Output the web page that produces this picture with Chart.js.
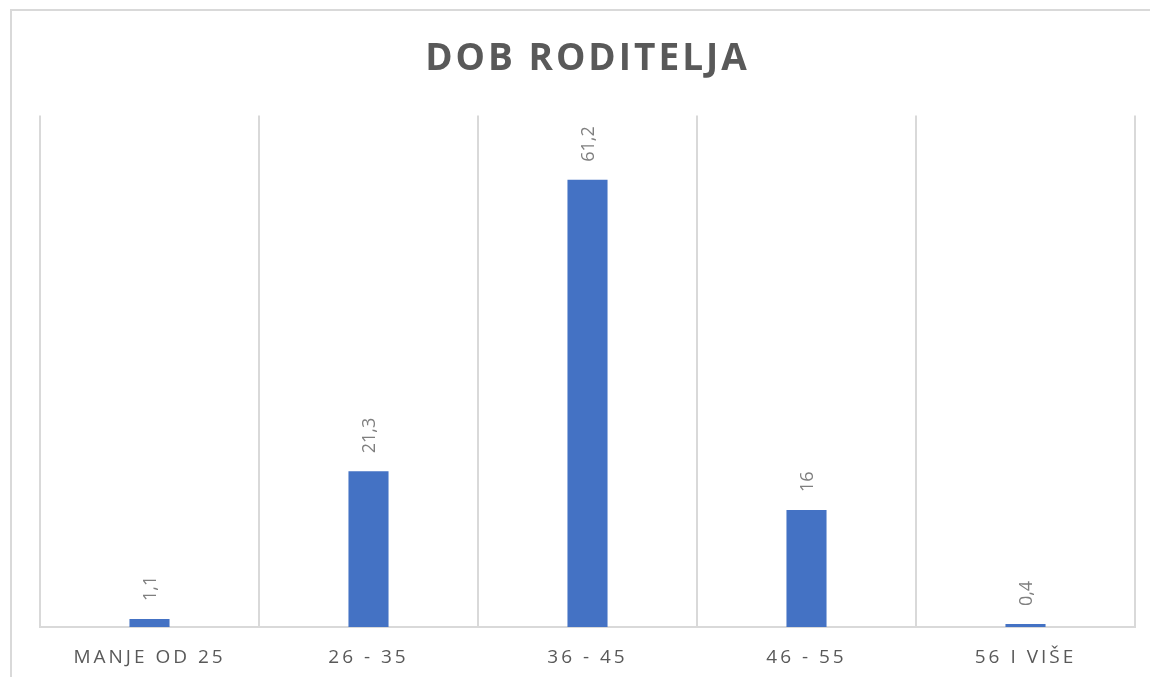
<!DOCTYPE html>
<html lang="hr">
<head>
<meta charset="UTF-8">
<title>Dob roditelja</title>
<script src="https://cdn.jsdelivr.net/npm/chart.js@4.4.0/dist/chart.umd.min.js"></script>
<style>
  html, body { margin: 0; padding: 0; background: #fff; overflow: hidden; }
  #frame { position: absolute; left: 10px; top: 9px; width: 1200px; height: 720px;
           border: 2px solid #d9d9d9; box-sizing: border-box; }
  #wrap { position: absolute; left: 0; top: 0; width: 1150px; height: 677px; }
</style>
</head>
<body>
<div id="frame"></div>
<div id="wrap"><canvas id="chart"></canvas></div>
<script>
// chart data
const categories = ['MANJE OD 25', '26 - 35', '36 - 45', '46 - 55', '56 I VIŠE'];
const values = [1.1, 21.3, 61.2, 16, 0.4];
const yMax = 70;

const fmt = v => String(v).replace('.', ',');

// letter-spaced text for title and axis labels (Excel style)
const spacing = {
  id: 'spacing',
  beforeDraw(chart) { chart.ctx.letterSpacing = '3px'; }
};

// rotated value labels above bars
const barLabels = {
  id: 'barLabels',
  afterDatasetsDraw(chart) {
    const ctx = chart.ctx;
    const meta = chart.getDatasetMeta(0);
    ctx.save();
    ctx.letterSpacing = '0px';
    ctx.font = '18px "Open Sans"';
    ctx.fillStyle = '#7f7f7f';
    ctx.textAlign = 'left';
    ctx.textBaseline = 'middle';
    meta.data.forEach((bar, i) => {
      ctx.save();
      ctx.translate(bar.x + 1, bar.y - 18);
      ctx.rotate(-Math.PI / 2);
      ctx.fillText(fmt(values[i]), 0, 0);
      ctx.restore();
    });
    ctx.restore();
  }
};

new Chart(document.getElementById('chart'), {
  type: 'bar',
  data: {
    labels: categories,
    datasets: [{
      data: values,
      backgroundColor: '#4472c4',
      barPercentage: 0.183,
      categoryPercentage: 1
    }]
  },
  options: {
    responsive: true,
    maintainAspectRatio: false,
    animation: false,
    layout: { padding: { left: 40, right: 15, top: 0, bottom: 0 } },
    plugins: {
      legend: { display: false },
      tooltip: { enabled: false },
      title: {
        display: true,
        text: 'DOB RODITELJA',
        color: '#595959',
        font: { family: '"Open Sans"', size: 37, weight: 'bold' },
        padding: { top: 37, bottom: 34 }
      }
    },
    scales: {
      x: {
        offset: true,
        grid: { display: true, offset: true, color: '#d9d9d9', lineWidth: 2, drawTicks: false },
        border: { display: true, color: '#d9d9d9', width: 2 },
        ticks: {
          color: '#595959',
          padding: 19,
          maxRotation: 0,
          font: { family: '"Open Sans"', size: 19 }
        },
        afterFit(scale) { scale.height = 50; }
      },
      y: {
        display: false,
        min: 0,
        max: yMax
      }
    }
  },
  plugins: [spacing, barLabels]
});
</script>
</body>
</html>
